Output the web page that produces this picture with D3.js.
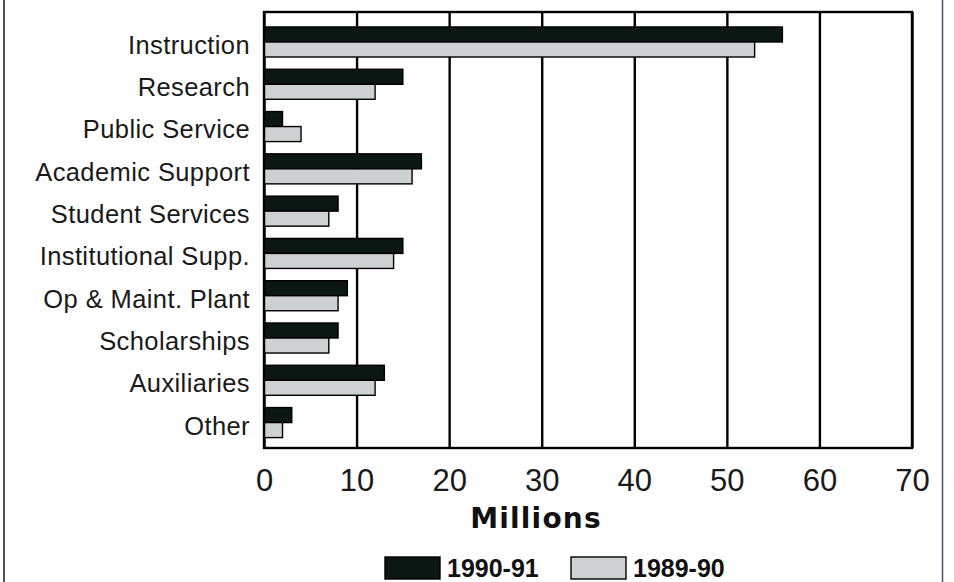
<!DOCTYPE html>
<html>
<head>
<meta charset="utf-8">
<script src="https://cdn.jsdelivr.net/npm/d3@7"></script>
<style>
  body { margin: 0; background: #fff; }
  svg { display: block; }
</style>
</head>
<body>
<div id="vis"></div>
<script>
// expenditures by function, millions
var categories = ["Instruction", "Research", "Public Service", "Academic Support",
  "Student Services", "Institutional Supp.", "Op & Maint. Plant", "Scholarships",
  "Auxiliaries", "Other"];
var years = ["1990-91", "1989-90"];
var values9091 = [56, 15, 2, 17, 8, 15, 9, 8, 13, 3];
var values8990 = [53, 12, 4, 16, 7, 14, 8, 7, 12, 2];
var xTicks = [0, 10, 20, 30, 40, 50, 60, 70];

var W = 954, H = 582;
var margin = {top: 12, right: 42, bottom: 134, left: 264};

var color = {"1990-91": "#0c1613", "1989-90": "#cdd1d1"};

var data = categories.map(function (c, i) {
  return {name: c, "1990-91": values9091[i], "1989-90": values8990[i]};
});

var svg = d3.select("#vis").append("svg")
  .attr("width", W)
  .attr("height", H);

// page frame
svg.append("line").attr("x1", 4).attr("x2", 4).attr("y1", 0).attr("y2", H)
  .attr("stroke", "#4c5062").attr("stroke-width", 2);
svg.append("line").attr("x1", 942.5).attr("x2", 942.5).attr("y1", 0).attr("y2", H)
  .attr("stroke", "#4c5062").attr("stroke-width", 1.5);

var x = d3.scaleLinear()
  .domain([0, 70])
  .range([margin.left, W - margin.right]);

var y0 = d3.scaleBand()
  .domain(categories)
  .range([margin.top, H - margin.bottom])
  .paddingInner(0.29)
  .paddingOuter(0.3)
  .align(0.59);

var y1 = d3.scaleBand()
  .domain(years)
  .range([0, y0.bandwidth()]);

var plotTop = margin.top, plotBottom = H - margin.bottom;

// gridlines
svg.append("g")
  .attr("transform", `translate(0,${plotBottom})`)
  .call(d3.axisBottom(x).tickValues(xTicks).tickSize(-(plotBottom - plotTop)).tickFormat(""))
  .call(g => g.select(".domain").remove())
  .call(g => g.selectAll("line").attr("stroke", "#000").attr("stroke-width", 2.4));

// bars
svg.append("g")
  .selectAll("g")
  .data(data)
  .join("g")
    .attr("transform", d => `translate(0,${y0(d.name)})`)
  .selectAll("rect")
  .data(d => years.map(k => ({key: k, value: d[k]})))
  .join("rect")
    .attr("x", x(0))
    .attr("y", d => y1(d.key))
    .attr("width", d => x(d.value) - x(0))
    .attr("height", y1.bandwidth())
    .attr("fill", d => color[d.key])
    .attr("stroke", "#000")
    .attr("stroke-width", 1.4);

// plot box
svg.append("rect")
  .attr("x", x(0)).attr("y", plotTop)
  .attr("width", x(70) - x(0)).attr("height", plotBottom - plotTop)
  .attr("fill", "none").attr("stroke", "#000").attr("stroke-width", 2.4);

// category labels
svg.append("g")
  .attr("font-family", "Liberation Sans, Arial, sans-serif")
  .attr("font-size", 25.5)
  .attr("letter-spacing", 0.4)
  .attr("fill", "#1a1a1a")
  .attr("text-anchor", "end")
  .selectAll("text")
  .data(categories)
  .join("text")
    .attr("x", 250)
    .attr("y", d => y0(d) + y0.bandwidth() / 2 + 3)
    .attr("dy", "0.35em")
    .text(d => d);

// x tick labels
svg.append("g")
  .attr("transform", `translate(0,${plotBottom})`)
  .call(d3.axisBottom(x).tickValues(xTicks).tickSize(0).tickPadding(21))
  .call(g => g.select(".domain").remove())
  .call(g => g.selectAll("text")
    .attr("font-family", "Liberation Sans, Arial, sans-serif")
    .attr("font-size", 31)
    .attr("fill", "#1a1a1a"));

svg.append("text")
  .attr("x", 536)
  .attr("y", 528)
  .attr("text-anchor", "middle")
  .attr("font-family", "DejaVu Sans, sans-serif")
  .attr("font-weight", "bold")
  .attr("font-size", 28)
  .attr("letter-spacing", 1.2)
  .attr("fill", "#111")
  .text("Millions");

// legend
var legend = svg.append("g")
  .selectAll("g")
  .data(years)
  .join("g")
    .attr("transform", (d, i) => `translate(${i === 0 ? 385 : 571},557)`);

legend.append("rect")
  .attr("width", 55)
  .attr("height", 22)
  .attr("fill", d => color[d])
  .attr("stroke", "#000")
  .attr("stroke-width", 1.4);

legend.append("text")
  .attr("x", 62)
  .attr("y", 20)
  .attr("font-family", "Liberation Sans, Arial, sans-serif")
  .attr("font-weight", "bold")
  .attr("font-size", 25)
  .attr("fill", "#111")
  .text(d => d);
</script>
</body>
</html>
